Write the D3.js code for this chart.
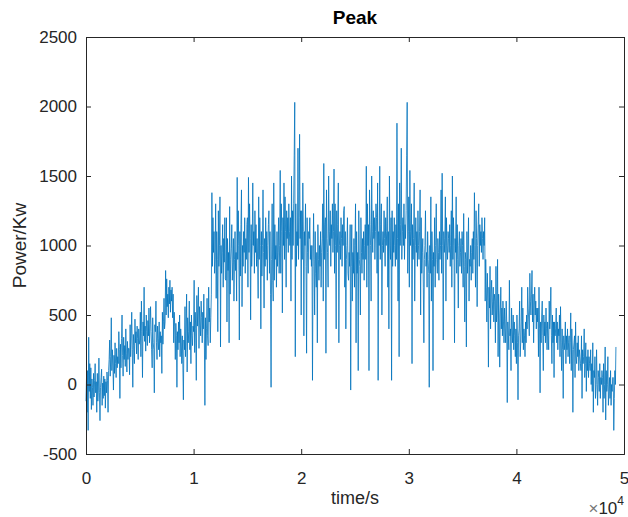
<!DOCTYPE html>
<html>
<head>
<meta charset="utf-8">
<script src="https://cdn.jsdelivr.net/npm/d3@7"></script>
<style>
  body { margin: 0; background: #fff; }
  svg { display: block; font-family: "Liberation Sans", Arial, sans-serif; }
  .axis path, .axis line { stroke: #262626; }
  .axis text { fill: #262626; font-size: 17px; }
</style>
</head>
<body>
<div id="chart"></div>
<script>
// Power samples: one row per 1000 s, one value per 50 s.
const STEP = 50;
const power = [
  -120, 60, -200, 100, -330, 340, -50, 150, -100, 120, -180, 40, -20, -150, 80, -90, 30, 150, -60, 20,
  -200, 80, -120, -40, 190, -60, -260, -20, 50, 110, -150, 10, -100, 60, -80, 40, -170, 20, -60, 90,
  30, -200, 100, 180, 320, 60, 200, 480, 100, 250, 140, -40, 210, 80, 300, 150, 50, 260, 120, 200,
  150, 380, 250, -100, 290, 120, 330, 500, 210, 60, 340, 180, 280, 130, 400, 220, 90, 310, 180, 260,
  260, 70, 430, 200, 350, 520, 250, -20, 360, 280, 150, 470, 300, 380, 220, 420, 330, 180, 400, 290,
  320, 520, 200, 600, 380, 50, 450, 350, 700, 310, 420, 240, 500, 380, 280, 460, 350, 550, 300, 430,
  560, 380, 250, 120, 480, 300, 250, -60, 430, 380, 600, 300, 180, 420, 330, 250, 450, 200, 380, 300,
  350, 80, 520, 290, 450, 620, 400, 450, 820, 500, 760, 560, 650, 480, 700, 580, 750, 520, 680, 600,
  700, 480, 650, 300, 520, 420, 180, 440, 350, -20, 380, 250, 450, 300, 500, 200, 400, 320, 150, 350,
  150, -110, 320, 250, 560, 200, 400, 650, 90, 480, 300, 380, 600, 250, 450, 150, 500, 350, 280, 420,
  380, 750, 230, 520, 400, 30, 640, 420, 550, 700, 260, 560, 450, 350, 600, 480, 300, 520, 400, 650,
  320, -150, 480, 180, 400, 620, 350, 280, 700, 450, 550, 300, 480, 650, 1380, 850, 1200, 950, 1100, 800,
  900, 1300, 620, 1100, 900, 380, 1250, 850, 1000, 1350, 270, 1000, 800, 950, 1150, 700, 1050, 880, 1200, 760,
  750, 1200, 450, 1050, 820, 950, 300, 1280, 650, 900, 980, 1150, 750, 880, 1050, 600, 900, 1100, 820, 950,
  600, 1490, 900, 1250, 1000, 320, 1100, 780, 1150, 1400, 560, 1000, 850, 1100, 950, 1200, 800, 1050, 900, 1150,
  1200, 700, 1490, 950, 1300, 1050, 465, 1150, 850, 1000, 1450, 1000, 1100, 800, 1250, 950, 1150, 850, 1050, 900,
  620, 1350, 900, 1200, 1000, 400, 1100, 780, 1000, 1400, 950, 550, 1050, 850, 1200, 900, 1100, 750, 1000, 1150,
  1250, 800, 1100, 650, -20, 900, 1300, 750, 600, 1450, 750, 1150, 900, 1000, 700, 1100, 850, 950, 1200, 800,
  1000, 1540, 800, 1300, 1100, 515, 1200, 1000, 1450, 900, 1350, 1100, 700, 1250, 1050, 1200, 950, 1300, 1100, 1000,
  1200, 600, 1500, 900, 1250, 1000, 1300, 1650, 2030, 200, 1300, 850, 1100, 1000, 1700, 900, 1200, 1800, 1050, 1250,
  500, 1250, 900, 1450, 1100, 350, 1100, 1000, 1300, 850, 225, 1200, 950, 800, 1100, 1050, 1200, 900, 1000, 850,
  1000, 30, 850, 1230, 900, 500, 1100, 800, 700, 950, 300, 1150, 900, 750, 1000, 850, 1100, 700, 950, 1050,
  1300, 600, 1590, 900, 1150, 1200, 225, 1400, 1050, 950, 700, 1500, 1100, 1000, 1250, 850, 1150, 1050, 1300, 950,
  1100, 1550, 800, 1300, 1000, 400, 1250, 950, 1150, 1450, 300, 1000, 1100, 900, 1200, 1050, 850, 1150, 1000, 1250,
  1280, 700, 1100, 400, 900, 1000, 1200, 800, 750, 950, 850, 1150, -40, 850, 1150, 600, 950, 800, 1050, 700,
  1000, 1300, 300, 1100, 800, 950, 100, 1250, 900, 850, 500, 1200, 950, 800, 1050, 900, 1100, 750, 1000, 1150,
  900, 1570, 700, 1300, 1000, 1150, 100, 1400, 1150, 1000, 600, 1500, 1100, 950, 1250, 1050, 1200, 900, 1100, 1300,
  1200, 800, 1450, 30, 1100, 1000, 1570, 900, 1150, 1300, 500, 1000, 1100, 950, 1250, 1050, 850, 1200, 1000, 1100,
  1350, 700, 1100, 400, 1500, 1000, 900, 1200, 30, 1250, 850, 1100, 950, 1200, 1000, 850, 1150, 900, 1880, 1050,
  600, 1300, 200, 1450, 1000, 1150, 1700, 900, 1100, 1200, 1000, 1300, 900, 1150, 1050, 1250, 1650, 2030, 800, 1100,
  1350, 700, 1540, 1000, 1100, 1300, 150, 1150, 900, 1050, 1450, 600, 1000, 1200, 950, 1100, 850, 1250, 1000, 900,
  1100, 1400, 500, 1200, 800, 950, 1050, 700, 300, 900, 1000, 1250, 850, 950, 700, 1100, 900, 800, -20, 1000,
  800, 1350, 600, 1100, 900, 100, 950, 850, 1200, 700, 1000, 1300, 900, 800, 1050, 950, 750, 1100, 900, 1000,
  1400, 800, 1520, 1000, 320, 1100, 950, 1050, 1350, 600, 1200, 1000, 900, 1100, 1050, 950, 1150, 850, 1000, 1250,
  700, 1500, 900, 1200, 1000, 300, 1050, 950, 1350, 800, 1150, 900, 550, 1000, 1100, 850, 950, 1050, 800, 1100,
  1000, 700, 1230, 850, 450, 950, 900, 270, 1100, 800, 950, 1200, 600, 900, 850, 1000, 750, 950, 1050, 800,
  1100, 900, 1380, 1000, 700, 1250, 1050, 560, 1000, 1150, 1300, 850, 1150, 1000, 1100, 950, 1200, 1050, 900, 1100,
  1000, 1200, 600, 900, 700, 450, 800, 600, 125, 700, 550, 850, 400, 650, 750, 500, 600, 700, 450, 650,
  600, 300, 850, 450, 550, 900, 200, 650, 500, 125, 500, 700, 400, 550, 350, 600, 450, 300, 550, 400,
  300, 600, 450, -130, 450, 350, 250, 750, 350, 400, 100, 550, 400, 300, 500, 250, 450, 350, 200, 400,
  150, 500, 300, -110, 350, 400, 600, 200, 300, 450, 700, 300, 550, 250, 400, 350, 200, 450, 300, 500,
  400, 700, 550, 450, 350, 800, 600, 500, 650, 820, 450, 650, 300, 550, 700, 500, 600, 400, 550, 450,
  550, 200, 700, 400, -60, 450, 300, 500, 600, 350, 100, 500, 350, 450, 300, 550, 400, 250, 450, 350,
  250, 600, 400, 500, 700, 350, 150, 500, 300, 450, 50, 450, 350, 400, 550, 300, 450, 250, 400, 350,
  500, 200, 560, 300, 100, 400, 250, -100, 350, 250, 300, 450, 150, 350, 250, 400, 200, 300, 350, 150,
  300, 515, 100, 400, 250, -200, 250, 300, 350, 50, 450, 200, 150, 300, 200, 350, 100, 250, 200, 150,
  100, 350, -100, 250, 150, 200, 400, 50, 150, 300, -50, 200, 100, 250, 50, 200, 150, 100, 250, 0,
  150, -50, 300, -200, 100, 50, 200, -100, 0, 250, 0, -150, 100, 50, -50, 150, -100, 50, 0, 100,
  50, -200, 150, -100, 0, 270, -255, 100, -50, 0, 200, -150, -50, 50, -100, 100, -150, 0, -50, 50,
  50, -330, -100, 100, 0, 270
];
const xTicks = [0, 1e4, 2e4, 3e4, 4e4, 5e4];
const yTicks = [-500, 0, 500, 1000, 1500, 2000, 2500];

const width = 628, height = 517;
const m = { top: 37, right: 4, bottom: 63, left: 86 };
const iW = width - m.left - m.right, iH = height - m.top - m.bottom;

const x = d3.scaleLinear([0, 5e4], [0, iW]);
const y = d3.scaleLinear([-500, 2500], [iH, 0]);

const svg = d3.select("#chart").append("svg")
  .attr("width", width).attr("height", height);
const g = svg.append("g").attr("transform", `translate(${m.left},${m.top})`);

const pts = power.map((v, i) => ({ t: i * STEP, v }));
g.append("path").datum(pts)
  .attr("fill", "none").attr("stroke", "#0072BD").attr("stroke-width", 0.8)
  .attr("d", d3.line().x((p) => x(p.t)).y((p) => y(p.v)));

// MATLAB-style box: ticks point inward on all four sides.
const tk = 5;
g.append("g").attr("class", "axis").attr("transform", `translate(0,${iH})`)
  .call(d3.axisBottom(x).tickValues(xTicks).tickSize(-tk).tickPadding(18).tickFormat((d) => d / 1e4));
g.append("g").attr("class", "axis")
  .call(d3.axisTop(x).tickValues(xTicks).tickSize(-tk).tickFormat(""));
g.append("g").attr("class", "axis")
  .call(d3.axisLeft(y).tickValues(yTicks).tickSize(-tk).tickPadding(9).tickFormat((d) => String(d)));
g.append("g").attr("class", "axis").attr("transform", `translate(${iW},0)`)
  .call(d3.axisRight(y).tickValues(yTicks).tickSize(-tk).tickFormat(""));

g.append("text").attr("x", iW / 2).attr("y", -13).attr("text-anchor", "middle")
  .attr("font-size", 19).attr("font-weight", "bold").attr("fill", "#000").text("Peak");
g.append("text").attr("x", iW / 2).attr("y", iH + 50).attr("text-anchor", "middle")
  .attr("font-size", 18).attr("fill", "#262626").text("time/s");
g.append("text").attr("text-anchor", "middle").attr("font-size", 19).attr("fill", "#262626")
  .attr("transform", `translate(${-60},${iH / 2}) rotate(-90)`).text("Power/Kw");

const ex = g.append("text").attr("x", iW).attr("y", iH + 60).attr("text-anchor", "end")
  .attr("font-size", 17).attr("fill", "#262626");
ex.append("tspan").attr("fill", "#777").text("\u00d7");
ex.append("tspan").text("10");
ex.append("tspan").attr("dy", -9).attr("font-size", 12).text("4");
</script>
</body>
</html>
